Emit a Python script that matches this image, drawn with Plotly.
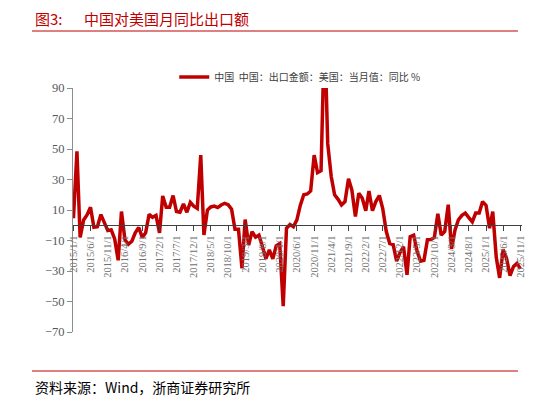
import pandas as pd
import plotly.graph_objects as go

# 中国对美国出口金额 当月同比 (%), monthly 2015/1 - 2025/11
y2015 = [4.6, 48.5, -8, 3.5, 6.8, 11.8, -1.3, -1, 7, 1.3, -3.5, -3]
y2016 = [-9, -23, 9, -9.6, -12.5, -10.5, -5, -1.5, -8, -5, 7.2, 5.2]
y2017 = [6.5, -5, 19.2, 11.8, 11.8, 19.5, 9, 8.5, 14, 8.5, 15, 12.5]
y2018 = [11, 46, -6.4, 10, 12, 12.6, 11.6, 13.3, 14.4, 13.5, 10.5, -2.6]
y2019 = [-2.6, -28.2, 3.7, -13, -4.2, -7.8, -6.5, -14, -21.9, -16.2, -22, -13.5]
y2020 = [-12, -53, -2, 0.5, -1, 3.5, 13, 20, 20.5, 22.5, 46, 34.5]
y2021 = [35.8, 130, 53.5, 32, 20, 17, 13.3, 15.5, 30.5, 23, 5.7, 21]
y2022 = [17.7, 9.5, 22.5, 9.5, 15.5, 19.5, 11, -4, -12, -12.6, -23.5, -18]
y2023 = [-14, -32.5, -7.5, -6.5, -17, -23.5, -23, -9.5, -9.3, -8, 7.5, -6.5]
y2024 = [-4, 13.5, -15.5, -3, 3.6, 6.5, 8, 5, 2.2, 8, 8, 15.5]
y2025 = [13, -2, 9, -21, -34.5, -16, -21.7, -33, -27, -25, -28.6]

tick_labels = ["2015/1/1", "2015/6/1", "2015/11/1", "2016/4/1", "2016/9/1",
               "2017/2/1", "2017/7/1", "2017/12/1", "2018/5/1", "2018/10/1",
               "2019/3/1", "2019/8/1", "2020/1/1", "2020/6/1", "2020/11/1",
               "2021/4/1", "2021/9/1", "2022/2/1", "2022/7/1", "2022/12/1",
               "2023/5/1", "2023/10/1", "2024/3/1", "2024/8/1", "2025/1/1",
               "2025/6/1", "2025/11/1"]
y_ticks = [-70, -50, -30, -10, 10, 30, 50, 70, 90]

values = y2015 + y2016 + y2017 + y2018 + y2019 + y2020 + y2021 + y2022 + y2023 + y2024 + y2025
dates = pd.date_range("2015-01-01", periods=len(values), freq="MS")
tick_vals = [pd.to_datetime(t, format="%Y/%m/%d") for t in tick_labels]

RED = "#C00000"
SERIF = "Liberation Serif, Times New Roman, serif"
CJK = "Noto Sans CJK SC"

fig = go.Figure()
fig.add_trace(go.Scatter(
    x=dates, y=values, mode="lines",
    name="中国  中国：出口金额：美国：当月值：同比 %",
    line=dict(color=RED, width=3.5),
))

# page body has an 8px margin, so the figure is 8px smaller on each side
fig.update_layout(
    width=540, height=394,
    margin=dict(l=65, r=26, t=80, b=70),
    paper_bgcolor="white", plot_bgcolor="white",
    showlegend=True,
    legend=dict(orientation="h", x=0.505, xanchor="center", y=1.045, yanchor="middle",
                font=dict(family=CJK, size=10, color="#404040"),
                bgcolor="rgba(0,0,0,0)"),
    xaxis=dict(
        type="date",
        range=["2014-12-28", "2025-11-15"],
        anchor="free", position=70 / 160,
        showline=True, linecolor="#404040", linewidth=1,
        ticks="outside", ticklen=5, tickcolor="#404040",
        tickvals=tick_vals, ticktext=tick_labels, tickangle=-90,
        tickfont=dict(family=SERIF, size=10.5, color="#707070"),
        showgrid=False, zeroline=False, automargin=False,
    ),
    yaxis=dict(
        range=[-70, 90], tickvals=y_ticks,
        showline=True, linecolor="#8c8c8c", linewidth=1,
        ticks="outside", ticklen=5, tickcolor="#8c8c8c",
        tickfont=dict(family=SERIF, size=12.5, color="#595959"),
        showgrid=False, zeroline=False, automargin=False,
    ),
)

# title, rules and source note
fig.add_annotation(text="图3:", xref="paper", yref="paper", x=-0.089, y=1.285,
                   xanchor="left", yanchor="middle", showarrow=False,
                   font=dict(family=CJK, size=15, color=RED))
fig.add_annotation(text="中国对美国月同比出口额", xref="paper", yref="paper", x=0.02, y=1.285,
                   xanchor="left", yanchor="middle", showarrow=False,
                   font=dict(family=CJK, size=15, color=RED))
fig.add_annotation(text="资料来源：Wind，浙商证券研究所", xref="paper", yref="paper",
                   x=-0.089, y=-0.225, xanchor="left", yanchor="middle", showarrow=False,
                   font=dict(family=CJK, size=14, color="black"))
fig.add_shape(type="line", xref="paper", yref="paper", x0=-0.0913, x1=0.991,
              y0=1.2336, y1=1.2336, line=dict(color=RED, width=1.2))
fig.add_shape(type="line", xref="paper", yref="paper", x0=-0.0913, x1=0.991,
              y0=-0.1598, y1=-0.1598, line=dict(color=RED, width=1.2))

fig.write_html("out.html")
